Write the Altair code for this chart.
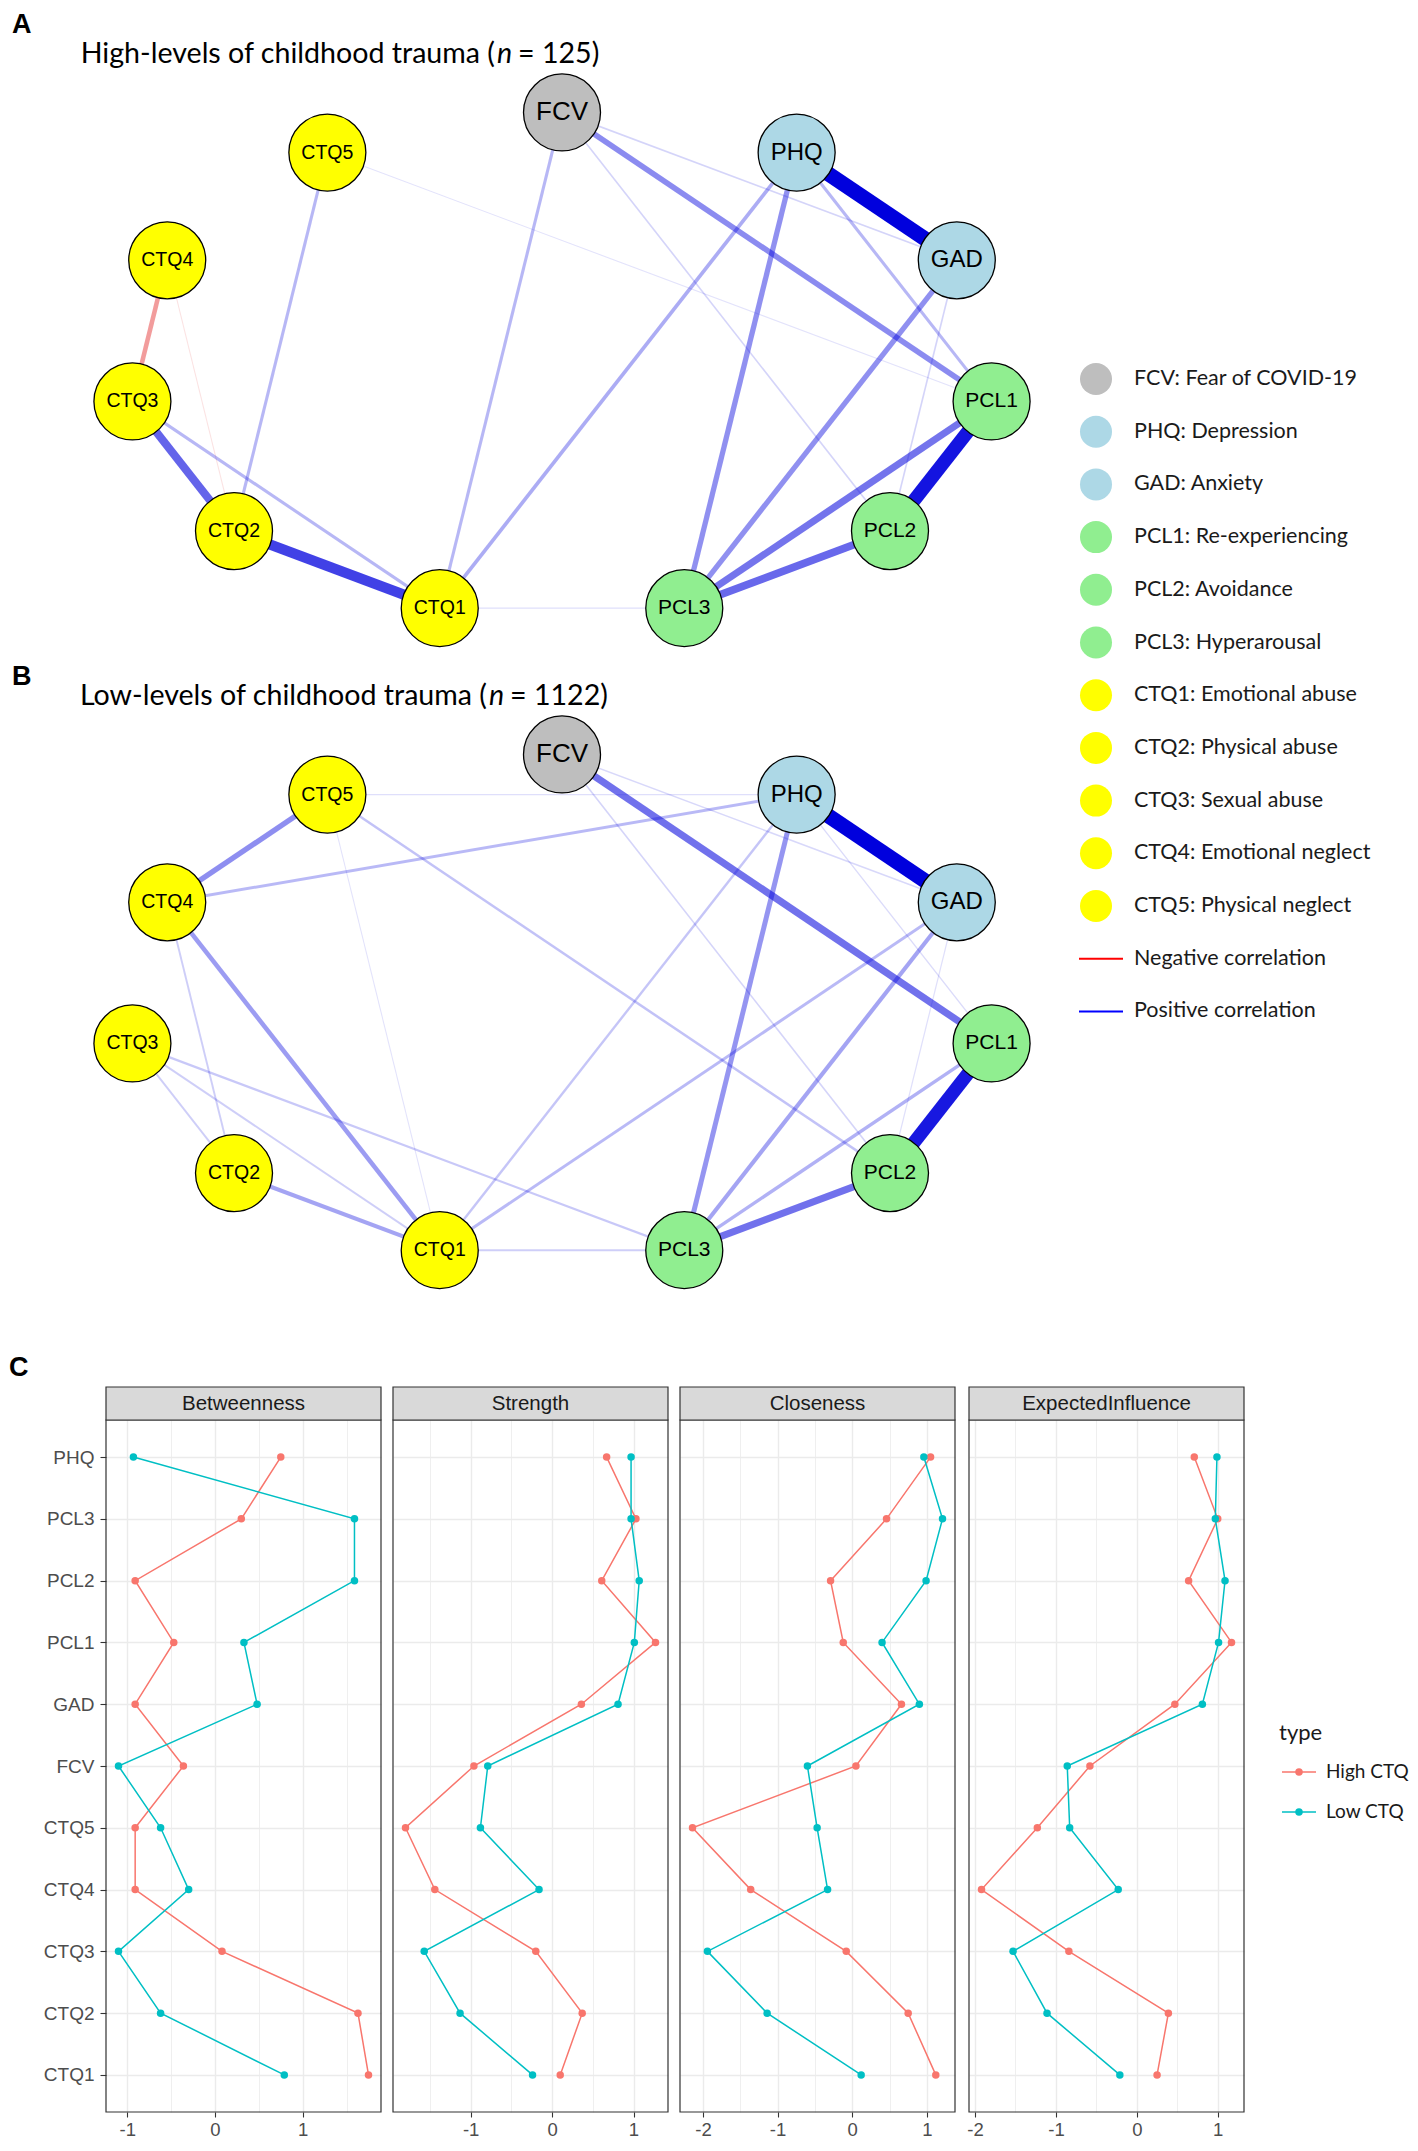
import numpy as np
import pandas as pd
import altair as alt

# ---------------- Network data (panels A and B) ----------------
node_names = ["FCV", "PHQ", "GAD", "PCL1", "PCL2", "PCL3",
              "CTQ1", "CTQ2", "CTQ3", "CTQ4", "CTQ5"]
node_groups = ["FCV", "Mood", "Mood", "PTSD", "PTSD", "PTSD",
               "CTQ", "CTQ", "CTQ", "CTQ", "CTQ"]
group_names = ["FCV", "Mood", "PTSD", "CTQ"]
group_colors = ["#BEBEBE", "#ADD8E6", "#90EE90", "#FFFF00"]

high_from = ["PHQ", "PCL1", "CTQ1", "CTQ2", "PCL2", "PCL1", "FCV", "PHQ", "GAD", "CTQ3", "PHQ",
             "CTQ2", "FCV", "CTQ3", "PHQ", "FCV", "FCV", "GAD", "CTQ5", "CTQ4", "CTQ1"]
high_to = ["GAD", "PCL2", "CTQ2", "CTQ3", "PCL3", "PCL3", "PCL1", "PCL3", "PCL3", "CTQ4", "CTQ1",
           "CTQ5", "CTQ1", "CTQ1", "PCL1", "GAD", "PCL2", "PCL2", "PCL1", "CTQ2", "PCL3"]
high_w = [1.00, 0.90, 0.68, 0.52, 0.50, 0.45, 0.35, 0.33, 0.33, -0.28, 0.22,
          0.18, 0.18, 0.18, 0.18, 0.08, 0.08, 0.08, 0.04, -0.04, 0.05]

low_from = ["PHQ", "PCL1", "FCV", "PCL2", "CTQ4", "PHQ", "CTQ4", "GAD", "CTQ2", "PCL1", "PHQ", "GAD",
            "PHQ", "CTQ5", "CTQ3", "CTQ3", "CTQ3", "CTQ4", "CTQ1", "FCV", "FCV", "CTQ5", "PHQ", "GAD", "CTQ5"]
low_to = ["GAD", "PCL2", "PCL1", "PCL3", "CTQ5", "PCL3", "CTQ1", "PCL3", "CTQ1", "PCL3", "CTQ4", "CTQ1",
          "CTQ1", "PCL2", "PCL3", "CTQ1", "CTQ2", "CTQ2", "PCL3", "PCL2", "GAD", "PHQ", "PCL1", "PCL2", "CTQ1"]
low_w = [1.00, 0.88, 0.46, 0.46, 0.34, 0.31, 0.28, 0.25, 0.25, 0.20, 0.17, 0.17,
         0.13, 0.14, 0.12, 0.10, 0.10, 0.10, 0.10, 0.08, 0.07, 0.05, 0.06, 0.05, 0.04]

legend_labels = ["FCV: Fear of COVID-19", "PHQ: Depression", "GAD: Anxiety",
                 "PCL1: Re-experiencing", "PCL2: Avoidance", "PCL3: Hyperarousal",
                 "CTQ1: Emotional abuse", "CTQ2: Physical abuse", "CTQ3: Sexual abuse",
                 "CTQ4: Emotional neglect", "CTQ5: Physical neglect",
                 "Negative correlation", "Positive correlation"]
legend_keys = ["FCV", "Mood", "Mood", "PTSD", "PTSD", "PTSD",
               "CTQ", "CTQ", "CTQ", "CTQ", "CTQ", "neg", "pos"]

# ---------------- Centrality data (panel C) ----------------
cent_nodes = ["CTQ1", "CTQ2", "CTQ3", "CTQ4", "CTQ5", "FCV", "GAD", "PCL1", "PCL2", "PCL3", "PHQ"]
measures = ["Betweenness", "Strength", "Closeness", "ExpectedInfluence"]
type_labels = ["High CTQ", "Low CTQ"]
type_colors = ["#F8766D", "#00BFC4"]

betweenness_high = [1.75, 1.63, 0.08, -0.91, -0.91, -0.36, -0.91, -0.47, -0.91, 0.30, 0.75]
betweenness_low = [0.79, -0.62, -1.10, -0.30, -0.62, -1.10, 0.48, 0.33, 1.59, 1.59, -0.93]
strength_high = [0.10, 0.37, -0.20, -1.44, -1.80, -0.96, 0.36, 1.27, 0.61, 1.03, 0.67]
strength_low = [-0.24, -1.13, -1.57, -0.16, -0.88, -0.79, 0.81, 1.01, 1.07, 0.97, 0.97]
closeness_high = [1.12, 0.75, -0.08, -1.36, -2.14, 0.05, 0.66, -0.12, -0.29, 0.46, 1.05]
closeness_low = [0.12, -1.14, -1.94, -0.33, -0.47, -0.60, 0.90, 0.40, 0.99, 1.21, 0.96]
influence_high = [0.25, 0.39, -0.84, -1.92, -1.23, -0.58, 0.47, 1.17, 0.64, 1.00, 0.71]
influence_low = [-0.21, -1.11, -1.53, -0.23, -0.83, -0.86, 0.81, 1.01, 1.09, 0.97, 0.99]

# ---------------- helpers ----------------
def txt(text, x, y, **kw):
    return alt.Chart(alt.Data(values=[{"t": text}])).mark_text(**kw).encode(
        text="t:N", x=alt.value(x), y=alt.value(y))

NET_W, NET_H = 1040, 640
X_DOM = [-1.2765, 1.1198]
Y_DOM = [-1.117, 1.4126]

k = np.arange(len(node_names))
theta = np.pi / 2 - 2 * np.pi * k / len(node_names)   # circle layout, clockwise from top
nodes = pd.DataFrame({"node": node_names, "group": node_groups,
                      "lx": np.cos(theta), "ly": np.sin(theta)})
pos = nodes.set_index("node")


def edge_frame(frm, to, w):
    e = pd.DataFrame({"src": frm, "dst": to, "w": w})
    e["x"] = pos.loc[e["src"], "lx"].to_numpy()
    e["y"] = pos.loc[e["src"], "ly"].to_numpy()
    e["x2"] = pos.loc[e["dst"], "lx"].to_numpy()
    e["y2"] = pos.loc[e["dst"], "ly"].to_numpy()
    e["aw"] = e["w"].abs()
    return e.sort_values("aw").reset_index(drop=True)


node_color = alt.Color("group:N", scale=alt.Scale(domain=group_names, range=group_colors), legend=None)
TFONT = 28.6


def network(edges, letter, letter_y, main, tail, split_x):
    xs = alt.Scale(domain=X_DOM, nice=False, zero=False)
    ys = alt.Scale(domain=Y_DOM, nice=False, zero=False)
    edge_layer = alt.Chart(edges).transform_calculate(
        ecol="datum.w < 0 ? '#DD0000' : '#0000DD'"
    ).mark_rule().encode(
        x=alt.X("x:Q", scale=xs, axis=None),
        y=alt.Y("y:Q", scale=ys, axis=None),
        x2="x2:Q", y2="y2:Q",
        strokeWidth=alt.StrokeWidth("aw:Q", scale=alt.Scale(domain=[0, 1], range=[0.5, 15]), legend=None),
        strokeOpacity=alt.StrokeOpacity("aw:Q", scale=alt.Scale(type="pow", exponent=0.8, domain=[0, 1],
                                                                 range=[0.04, 1]), legend=None),
        color=alt.Color("ecol:N", scale=None),
        order=alt.Order("aw:Q"),
    )
    node_layer = alt.Chart(nodes).mark_circle(size=5929, opacity=1, stroke="black", strokeWidth=1.3).encode(
        x=alt.X("lx:Q", scale=xs, axis=None),
        y=alt.Y("ly:Q", scale=ys, axis=None),
        color=node_color,
    )
    label_layer = alt.Chart(nodes).transform_calculate(
        fs="indexof(datum.node, 'CTQ') == 0 ? 19.5 : (indexof(datum.node, 'PCL') == 0 ? 21 : (datum.node == 'FCV' ? 26 : 24))"
    ).mark_text(font="Liberation Sans", baseline="middle", align="center", color="black").encode(
        x=alt.X("lx:Q", scale=xs, axis=None),
        y=alt.Y("ly:Q", scale=ys, axis=None),
        text="node:N",
        size=alt.Size("fs:Q", scale=None),
    )
    t_letter = txt(letter, 4, letter_y, font="Liberation Sans", fontWeight="bold", fontSize=27,
                   align="left", baseline="middle", color="black")
    t_main = txt(main, split_x, 46, font="Lato", fontSize=TFONT, align="right", baseline="middle", color="black")
    t_n = txt("n", split_x + 2, 46, font="Lato", fontStyle="italic", fontSize=TFONT, align="left",
              baseline="middle", color="black")
    t_tail = txt(tail, split_x + 23, 46, font="Lato", fontSize=TFONT, align="left", baseline="middle",
                 color="black")
    return alt.layer(edge_layer, node_layer, label_layer, t_letter, t_main, t_n, t_tail).properties(
        width=NET_W, height=NET_H)


netA = network(edge_frame(high_from, high_to, high_w), "A", 17,
               "High-levels of childhood trauma (", "= 125)", 487)
netB = network(edge_frame(low_from, low_to, low_w), "B", 27,
               "Low-levels of childhood trauma (", "= 1122)", 479)

# legend for the networks
leg = pd.DataFrame({"label": legend_labels, "key": legend_keys, "row": np.arange(len(legend_labels))})
LEG_H = 2 * NET_H
LSTEP, LTOP = 52.7, 371
leg_y = alt.Y("row:Q", scale=alt.Scale(domain=[-LTOP / LSTEP, (LEG_H - LTOP) / LSTEP],
                                         reverse=True, nice=False, zero=False), axis=None)
leg_circles = alt.Chart(leg).transform_filter("datum.row <= 10").mark_circle(size=1024, opacity=1).encode(
    x=alt.value(48), y=leg_y,
    color=alt.Color("key:N", scale=alt.Scale(domain=group_names, range=group_colors), legend=None))
leg_lines = alt.Chart(leg).transform_filter("datum.row > 10").transform_calculate(
    lcol="datum.key == 'neg' ? '#FF0000' : '#0000FF'"
).mark_rule(strokeWidth=2).encode(
    x=alt.value(31), x2=alt.value(75), y=leg_y, color=alt.Color("lcol:N", scale=None))
leg_text = alt.Chart(leg).mark_text(align="left", baseline="middle", font="Lato", fontSize=21.5,
                                    color="#1A1A1A").encode(x=alt.value(86), y=leg_y, text="label:N")
net_legend = alt.layer(leg_lines, leg_circles, leg_text).properties(width=362, height=LEG_H)

# ---------------- Panel C ----------------
FW, FH = 275, 692
y_order = cent_nodes[::-1]
type_color = alt.Color("type:N", scale=alt.Scale(domain=type_labels, range=type_colors), legend=None)
series = {
    "Betweenness": (betweenness_high, betweenness_low),
    "Strength": (strength_high, strength_low),
    "Closeness": (closeness_high, closeness_low),
    "ExpectedInfluence": (influence_high, influence_low),
}


def facet(measure, first):
    hi, lo = series[measure]
    n = len(cent_nodes)
    df = pd.DataFrame({"node": cent_nodes * 2, "idx": list(range(n)) * 2,
                       "type": [type_labels[0]] * n + [type_labels[1]] * n,
                       "value": list(hi) + list(lo)})
    vals = df["value"].to_numpy()
    span = vals.max() - vals.min()
    dom = [float(vals.min() - 0.05 * span), float(vals.max() + 0.05 * span)]
    halves = [float(v) for v in np.arange(np.ceil(dom[0] * 2) / 2, dom[1], 0.5)]
    minor = "datum.value % 1 !== 0"
    xaxis = alt.Axis(values=halves, title=None, domain=False, grid=True, gridColor="#EBEBEB",
                     gridWidth={"condition": {"test": minor, "value": 0.8}, "value": 1.4},
                     ticks=True, tickColor="#333333", tickWidth=1.1,
                     tickSize={"condition": {"test": minor, "value": 0}, "value": 5},
                     labelExpr="datum.value % 1 === 0 ? replace(format(datum.value, 'd'), '\u2212', '-') : ''",
                     labelFont="Liberation Sans", labelFontSize=18.5, labelColor="#4D4D4D",
                     labelPadding=3, labelFlush=False, labelOverlap=False)
    yaxis = alt.Axis(title=None, domain=False, grid=True, gridColor="#EBEBEB", gridWidth=1.4,
                     labels=first, ticks=first, tickColor="#333333", tickSize=6, tickWidth=1.1,
                     labelFont="Liberation Sans", labelFontSize=19, labelColor="#4D4D4D", labelPadding=6)
    x = alt.X("value:Q", scale=alt.Scale(domain=dom, nice=False, zero=False), axis=xaxis)
    y = alt.Y("node:N", scale=alt.Scale(type="point", domain=y_order, padding=0.6), axis=yaxis)
    lines = alt.Chart(df).mark_line(strokeWidth=1.5).encode(x=x, y=y, color=type_color,
                                                            order=alt.Order("idx:Q"))
    points = alt.Chart(df).mark_circle(size=56, opacity=1).encode(x=x, y=y, color=type_color)
    one = alt.Data(values=[{"t": measure}])
    border = alt.Chart(one).mark_rect(fillOpacity=0, stroke="#333333", strokeWidth=1.2).encode(
        x=alt.value(0), x2=alt.value(FW), y=alt.value(0), y2=alt.value(FH))
    strip = alt.Chart(one).mark_rect(fill="#D9D9D9", stroke="#333333", strokeWidth=1.2).encode(
        x=alt.value(0), x2=alt.value(FW), y=alt.value(-33), y2=alt.value(0))
    strip_text = alt.Chart(one).mark_text(font="Liberation Sans", fontSize=20.5, color="#1A1A1A",
                                          baseline="middle", align="center").encode(
        x=alt.value(FW / 2), y=alt.value(-16.5), text="t:N")
    return alt.layer(lines, points, border, strip, strip_text).properties(width=FW, height=FH)


facets = [facet(m, i == 0) for i, m in enumerate(measures)]

c_label = txt("C", 1, -52, font="Liberation Sans", fontWeight="bold", fontSize=27,
              align="left", baseline="middle", color="black").properties(width=25, height=FH)

leg2 = pd.DataFrame({"type": type_labels, "row": [0, 1]})
ly = alt.Y("row:Q", scale=alt.Scale(domain=[-8.8, 8.5], reverse=True, nice=False, zero=False), axis=None)
key_line = alt.Chart(leg2).mark_rule(strokeWidth=1.5).encode(x=alt.value(27), x2=alt.value(61), y=ly,
                                                             color=type_color)
key_pt = alt.Chart(leg2).mark_circle(size=56, opacity=1).encode(x=alt.value(44), y=ly, color=type_color)
key_txt = alt.Chart(leg2).mark_text(align="left", baseline="middle", font="Lato", fontSize=19,
                                    color="#1A1A1A").encode(x=alt.value(71), y=ly, text="type:N")
key_title = txt("type", 24, 313, font="Lato", fontSize=22, align="left", baseline="middle", color="#1A1A1A")
c_legend = alt.layer(key_line, key_pt, key_txt, key_title).properties(width=140, height=FH)

IND = dict(x="independent", y="independent", color="independent")

nets = alt.vconcat(netA, netB, spacing=0).resolve_scale(**IND)
top = alt.hconcat(nets, net_legend, spacing=0).resolve_scale(**IND)
bottom = alt.hconcat(c_label, *facets, c_legend, spacing=10).resolve_scale(**IND)

chart = alt.vconcat(top, bottom, spacing=62).resolve_scale(**IND).properties(
    padding=0, background="white"
).configure_view(stroke=None)

chart.save("out.html", embed_options={"renderer": "svg", "actions": False})
